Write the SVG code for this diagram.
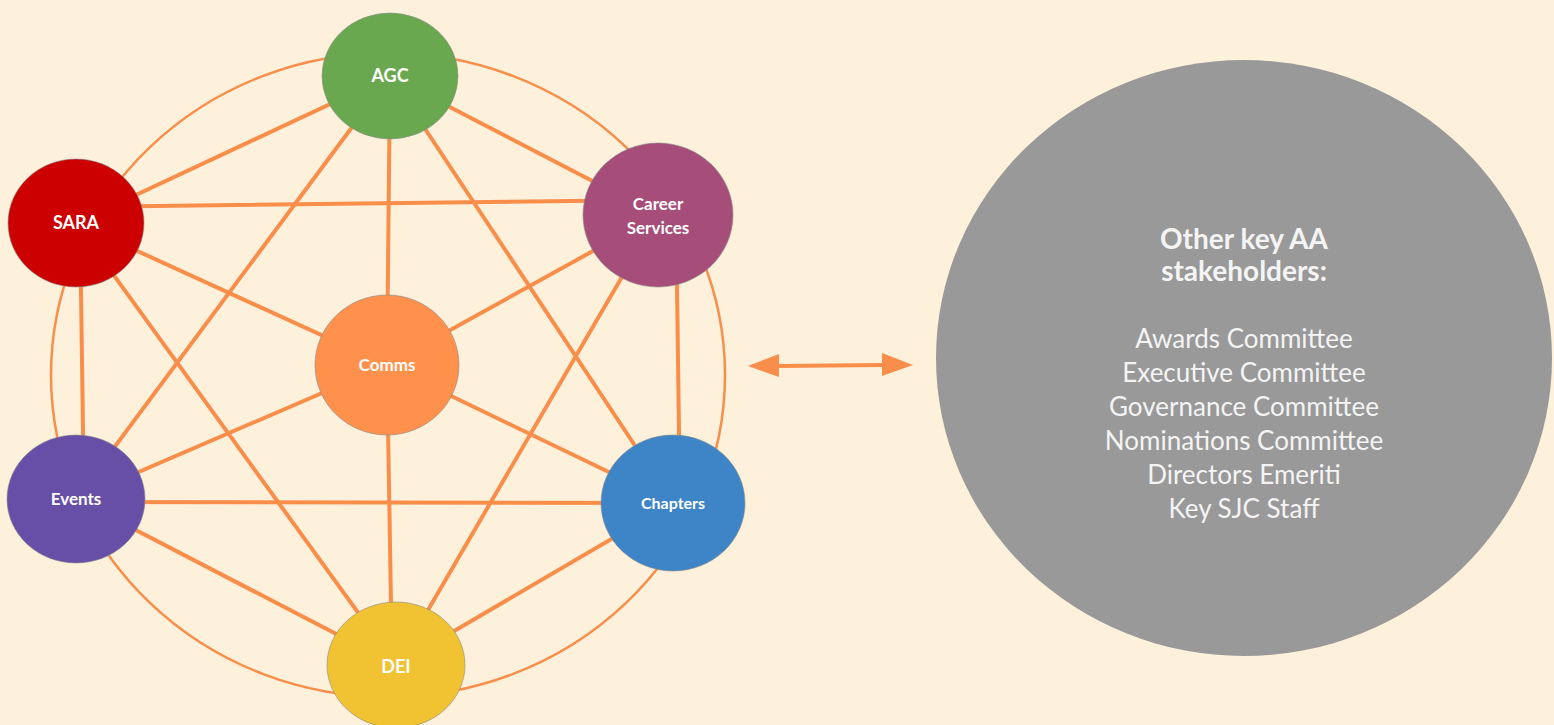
<svg xmlns="http://www.w3.org/2000/svg" width="1554" height="725" viewBox="0 0 1554 725">
<defs>
<style>
.edge{stroke:#F98E4B;stroke-width:4;stroke-linecap:round;fill:none}
.ring{stroke:#F98E4B;stroke-width:2.5;fill:none}
.node{stroke:#8a8a8a;stroke-width:1;stroke-opacity:0.6}
.lbl{font-family:Lato,"Open Sans",sans-serif;font-weight:700;fill:#FFFFFF;text-anchor:middle;font-size:18px}
.ttl{font-family:Lato,"Open Sans",sans-serif;font-weight:700;fill:#F4F4F4;text-anchor:middle;font-size:28px}
.itm{font-family:Lato,"Open Sans",sans-serif;font-weight:400;fill:#F4F4F4;text-anchor:middle;font-size:26px}
</style>
</defs>
<rect width="1554" height="725" fill="#FDF1DC"/>
<g id="connectors">
<ellipse class="ring" cx="388" cy="375" rx="337" ry="322"/>
<line class="edge" x1="390" y1="76" x2="76" y2="223"/>
<line class="edge" x1="390" y1="76" x2="658" y2="215"/>
<line class="edge" x1="390" y1="76" x2="387" y2="365"/>
<line class="edge" x1="390" y1="76" x2="76" y2="499"/>
<line class="edge" x1="390" y1="76" x2="673" y2="503"/>
<line class="edge" x1="76" y1="207" x2="658" y2="200"/>
<line class="edge" x1="76" y1="223" x2="387" y2="365"/>
<line class="edge" x1="80" y1="223" x2="84" y2="499"/>
<line class="edge" x1="76" y1="223" x2="396" y2="665"/>
<line class="edge" x1="658" y1="215" x2="387" y2="365"/>
<line class="edge" x1="676" y1="215" x2="680" y2="503"/>
<line class="edge" x1="658" y1="215" x2="396" y2="665"/>
<line class="edge" x1="387" y1="365" x2="76" y2="499"/>
<line class="edge" x1="387" y1="365" x2="673" y2="503"/>
<line class="edge" x1="387" y1="365" x2="392" y2="665"/>
<line class="edge" x1="76" y1="502" x2="673" y2="503"/>
<line class="edge" x1="76" y1="499" x2="396" y2="665"/>
<line class="edge" x1="673" y1="503" x2="396" y2="665"/>
<line class="edge" x1="778" y1="366" x2="883" y2="365" style="stroke-linecap:butt"/>
<path d="M748,366 L779,354 L779,377 Z" fill="#F98E4B"/>
<path d="M913,365 L882,353 L882,376 Z" fill="#F98E4B"/>
</g>
<g id="agc"><ellipse class="node" cx="390" cy="76" rx="68" ry="63" fill="#6AA84F"/><text class="lbl" x="390" y="82">AGC</text></g>
<g id="sara"><ellipse class="node" cx="76" cy="223" rx="68" ry="64" fill="#CC0000"/><text class="lbl" x="76" y="229">SARA</text></g>
<g id="career"><ellipse class="node" cx="658" cy="215" rx="75" ry="72" fill="#A64D79"/><text class="lbl" x="658" y="210" style="font-size:17px">Career</text><text class="lbl" x="658" y="234" style="font-size:17px">Services</text></g>
<g id="comms"><ellipse class="node" cx="387" cy="365" rx="72" ry="70" fill="#FF914D"/><text class="lbl" x="387" y="371" style="font-size:17px">Comms</text></g>
<g id="events"><ellipse class="node" cx="76" cy="499" rx="69" ry="64" fill="#674EA7"/><text class="lbl" x="76" y="505" style="font-size:17px">Events</text></g>
<g id="chapters"><ellipse class="node" cx="673" cy="503" rx="72" ry="68" fill="#3D85C6"/><text class="lbl" x="673" y="509" style="font-size:16px">Chapters</text></g>
<g id="dei"><ellipse class="node" cx="396" cy="665" rx="69" ry="63" fill="#F1C232"/><text class="lbl" x="396" y="673">DEI</text></g>
<g id="others">
<ellipse cx="1244" cy="358" rx="308" ry="298" fill="#999999"/>
<text class="ttl" x="1244" y="249">Other key AA</text>
<text class="ttl" x="1244" y="281">stakeholders:</text>
<text class="itm" x="1244" y="348">Awards Committee</text>
<text class="itm" x="1244" y="382">Executive Committee</text>
<text class="itm" x="1244" y="416">Governance Committee</text>
<text class="itm" x="1244" y="450">Nominations Committee</text>
<text class="itm" x="1244" y="484">Directors Emeriti</text>
<text class="itm" x="1244" y="518">Key SJC Staff</text>
</g>
</svg>
